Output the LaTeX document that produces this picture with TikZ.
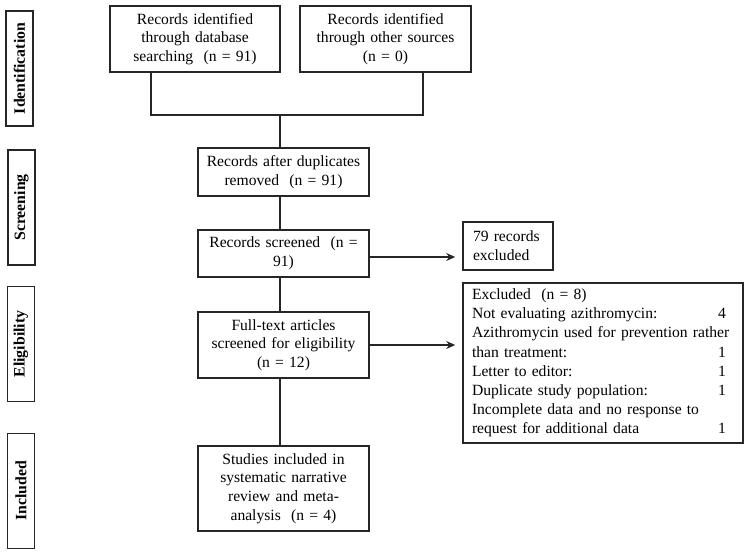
\documentclass[tikz,border=0pt]{standalone}
\usepackage{fontspec}
\setmainfont{Liberation Serif}
\usetikzlibrary{arrows.meta}
\begin{document}
\begin{tikzpicture}[x=1pt,y=-1pt,
  line width=1.5pt,
  every node/.style={font=\fontsize{15.6}{18.7}\selectfont},
  flowbox/.style={draw=black!85, line width=1.6pt, align=center, inner sep=2pt, text width=#1},
  flowbox/.default=165pt,
  sidebox/.style={draw=black!85, line width=1.6pt, rotate=90, font=\fontsize{15.8}{18}\selectfont\bfseries, minimum width=115pt, minimum height=27pt, inner sep=0pt},
  conn/.style={draw=black!85, line width=1.5pt},
  arr/.style={conn, -{Stealth[length=9pt,width=8pt]}, shorten >=7pt}
]
\useasboundingbox (0,0) rectangle (750,556);

% side labels
\node[sidebox] (sid) at (19.5,68.5) {Identification};
\node[sidebox] (sscr) at (21.5,207.5) {Screening};
\node[sidebox] (selg) at (21,344) {Eligibility};
\node[sidebox] (sinc) at (21,491) {Included};

% main boxes
\node[flowbox=166pt, minimum height=66pt] (b1) at (195,39) {Records identified\\through database\\searching\ \ (n = 91)};
\node[flowbox=167pt, minimum height=66pt] (b2) at (385.5,39) {Records identified\\through other sources\\(n = 0)};
\node[flowbox=167pt, minimum height=48pt] (b3) at (283.5,172) {Records after duplicates\\removed\ \ (n = 91)};
\node[flowbox=167pt, minimum height=47pt] (b4) at (283.5,253.5) {Records screened\ \ (n =\\91)};
\node[flowbox=167pt, minimum height=66pt] (b5) at (283.5,345) {Full-text articles\\screened for eligibility\\(n = 12)};
\node[flowbox=167pt, minimum height=85pt] (b6) at (283.5,488.5) {Studies included in\\systematic narrative\\review and meta-\\analysis\ \ (n = 4)};

% right boxes
\node[draw=black!85, line width=1.6pt, align=left, text width=70pt, inner xsep=10pt, inner ysep=2pt, minimum height=48pt] (r1) at (508,246) {79 records\\excluded};
\node[draw=black!85, line width=1.6pt, align=left, text width=262pt, inner xsep=9pt, inner ysep=2pt, minimum height=160pt, font=\fontsize{15.6}{19.2}\selectfont] (r2) at (603,363) {Excluded\ \ (n = 8)\\
Not evaluating azithromycin:\hfill 4\kern8pt\\
Azithromycin used for prevention rather\\
than treatment:\hfill 1\kern8pt\\
Letter to editor:\hfill 1\kern8pt\\
Duplicate study population:\hfill 1\kern8pt\\
Incomplete data and no response to\\
request for additional data\hfill 1\kern8pt};

% connectors
\coordinate (j1) at (151,115);
\coordinate (j2) at (423,115);
\coordinate (jm) at (280,115);
\draw[conn] (b1.south -| j1) -- (j1) -- (j2) -- (b2.south -| j2);
\draw[conn] (jm) -- (b3.north -| jm);
\draw[conn] (b3.south -| jm) -- (b4.north -| jm);
\draw[conn] (b4.south -| jm) -- (b5.north -| jm);
\draw[conn] (b5.south -| jm) -- (b6.north -| jm);
\coordinate (a1) at (369,257);
\draw[arr] (a1) -- (a1 -| r1.west);
\draw[arr] (b5.east) -- (b5.east -| r2.west);
\end{tikzpicture}
\end{document}
